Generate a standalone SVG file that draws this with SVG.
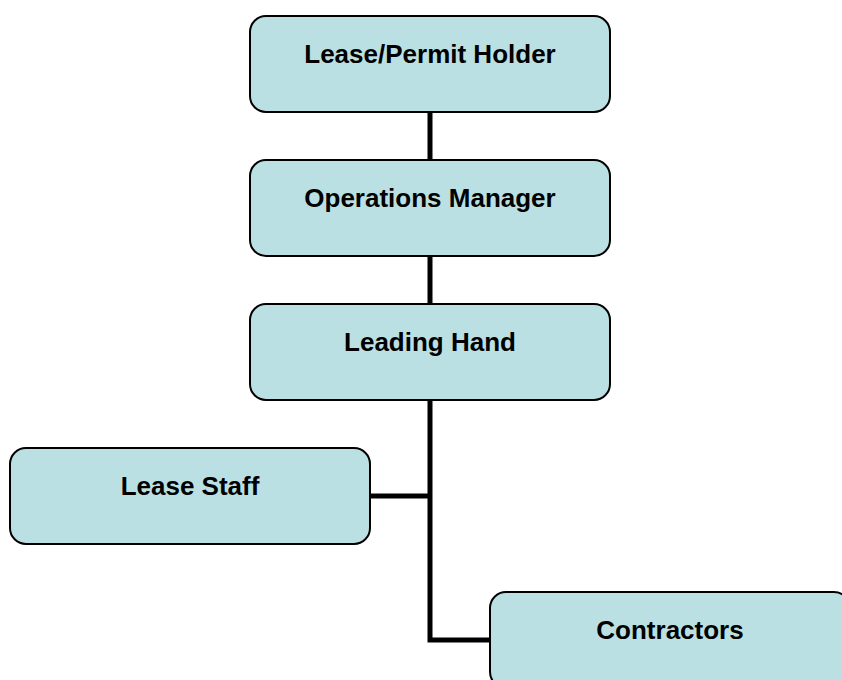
<svg xmlns="http://www.w3.org/2000/svg" width="842" height="680" viewBox="0 0 842 680">
<style>
.box{fill:#BBE0E3;stroke:#000;stroke-width:2}
.lbl{font-family:"Liberation Sans",Arial,sans-serif;font-weight:bold;font-size:26px;fill:#000;text-anchor:middle}
.conn{fill:none;stroke:#000;stroke-width:5}
</style>
<rect width="842" height="680" fill="#fff"/>
<g id="connectors">
<path class="conn" d="M430 112V640H490"/>
<path class="conn" d="M370 496H430"/>
</g>
<g id="lease-permit-holder"><rect class="box" x="250" y="16" width="360" height="96" rx="16"/><text class="lbl" x="430" y="63">Lease/Permit Holder</text></g>
<g id="operations-manager"><rect class="box" x="250" y="160" width="360" height="96" rx="16"/><text class="lbl" x="430" y="207">Operations Manager</text></g>
<g id="leading-hand"><rect class="box" x="250" y="304" width="360" height="96" rx="16"/><text class="lbl" x="430" y="351">Leading Hand</text></g>
<g id="lease-staff"><rect class="box" x="10" y="448" width="360" height="96" rx="16"/><text class="lbl" x="190" y="495">Lease Staff</text></g>
<g id="contractors"><rect class="box" x="490" y="592" width="360" height="96" rx="16"/><text class="lbl" x="670" y="639">Contractors</text></g>
</svg>
